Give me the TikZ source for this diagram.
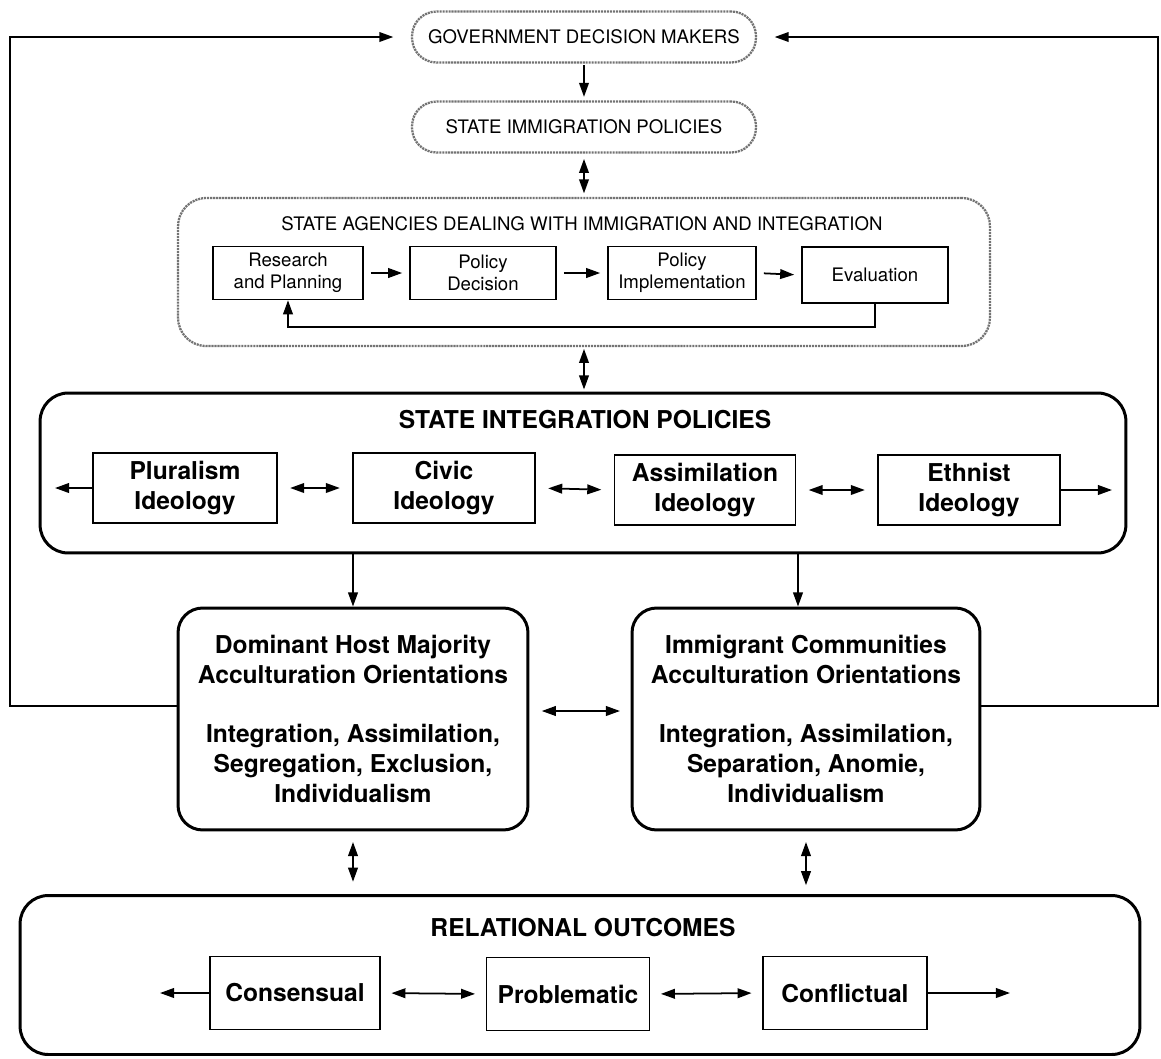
\documentclass[tikz,border=0pt]{standalone}
\usepackage{fontspec}
\setmainfont{TeX Gyre Heros}
\usetikzlibrary{arrows.meta,calc}
\begin{document}
\begin{tikzpicture}[x=0.02cm,y=-0.02cm,
  tip/.tip={Triangle[length=8pt,width=5.5pt]},
  arr/.style={-tip, line width=1pt},
  darr/.style={tip-tip, line width=1pt},
  dotbox/.style={draw=black!55, line width=1.3pt, dash pattern=on 1.2pt off 0.5pt,
    rounded corners=14pt, inner sep=0pt, font=\fontsize{10.6}{12.5}\selectfont},
  smallbox/.style={draw, line width=0.9pt, align=center, inner sep=0pt,
    minimum height=1.06cm, font=\fontsize{10.6}{12.5}\selectfont},
  bigbox/.style={draw, line width=1.7pt, rounded corners=16pt, inner sep=0pt},
  ideobox/.style={draw, line width=1pt, align=center, inner sep=0pt,
    minimum height=1.4cm, font=\fontsize{14}{17}\selectfont\bfseries},
  orientbox/.style={draw, line width=1.7pt, rounded corners=14pt, align=center, inner sep=0pt,
    minimum height=4.44cm, font=\fontsize{14}{17}\selectfont\bfseries},
  titletext/.style={font=\fontsize{14}{16}\selectfont\bfseries, inner sep=0pt},
  plaintext/.style={font=\fontsize{10.6}{12.5}\selectfont, inner sep=0pt}
]
\path[use as bounding box] (0,0) rectangle (1161,1059);

% top
\node[dotbox, minimum width=6.88cm, minimum height=1.02cm] (gov) at (584,37) {GOVERNMENT DECISION MAKERS};
\node[dotbox, minimum width=6.88cm, minimum height=1.02cm] (sip) at (584,127) {STATE IMMIGRATION POLICIES};

% agencies
\node[dotbox, rounded corners=16pt, minimum width=16.24cm, minimum height=2.96cm] (agy) at (584,272) {};
\node[plaintext] (agyt) at (582,224) {STATE AGENCIES DEALING WITH IMMIGRATION AND INTEGRATION};
\node[smallbox, minimum width=3cm] (res) at (288,273) {Research\\and Planning};
\node[smallbox, minimum width=2.92cm] (dec) at (483,273) {Policy\\Decision};
\node[smallbox, minimum width=2.96cm] (imp) at (682,273) {Policy\\Implementation};
\node[smallbox, minimum width=2.92cm, minimum height=1.12cm] (eva) at (875,275) {Evaluation};
\draw[arr, shorten <=4pt, shorten >=4pt] (res.east) -- (dec.west);
\draw[arr, shorten <=4pt, shorten >=4pt] (dec.east) -- (imp.west);
\draw[arr, shorten <=4pt, shorten >=4pt] (imp.east) -- (eva.west);
\coordinate (fb) at (0,327);
\draw[arr] (eva.south) -- (eva.south |- fb) -- (res.south |- fb) -- (res.south);

\draw[arr, shorten <=1pt, shorten >=2pt] (gov.south) -- (sip.north);
\draw[darr, shorten <=3pt, shorten >=2pt] (sip.south) -- (agy.north);
\draw[darr, shorten <=1pt, shorten >=2pt] (agy.south) -- (agy.south |- 0,393);

% integration policies
\node[bigbox, minimum width=21.72cm, minimum height=3.2cm] (sinp) at (583,473) {};
\node[titletext] (sinpt) at (585,420) {STATE INTEGRATION POLICIES};
\node[ideobox, minimum width=3.68cm] (plu) at (185,488) {Pluralism\\Ideology};
\node[ideobox, minimum width=3.64cm] (civ) at (444,488) {Civic\\Ideology};
\node[ideobox, minimum width=3.62cm] (ass) at (705,490) {Assimilation\\Ideology};
\node[ideobox, minimum width=3.64cm] (eth) at (969,490) {Ethnist\\Ideology};
\coordinate (il) at (55,0);
\coordinate (ir) at (1112,0);
\draw[arr] (plu.west) -- (plu.west -| il);
\draw[darr, shorten <=7pt, shorten >=7pt] (plu.east) -- (civ.west);
\draw[darr, shorten <=7pt, shorten >=7pt] (civ.east) -- (ass.west);
\draw[darr, shorten <=7pt, shorten >=7pt] (ass.east) -- (eth.west);
\draw[arr] (eth.east) -- (eth.east -| ir);

% orientations
\node[orientbox, minimum width=7cm] (dom) at (353,719) {Dominant Host Majority\\Acculturation Orientations\\[17pt]Integration, Assimilation,\\Segregation, Exclusion,\\Individualism};
\node[orientbox, minimum width=6.96cm] (imm) at (806,719) {Immigrant Communities\\Acculturation Orientations\\[17pt]Integration, Assimilation,\\Separation, Anomie,\\Individualism};
\draw[arr] (sinp.south -| dom.north) -- (dom.north);
\draw[arr] (sinp.south -| 798,0) -- (imm.north -| 798,0);
\coordinate (my) at (0,711);
\draw[darr, shorten <=7pt, shorten >=6pt] (dom.east |- my) -- (imm.west |- my);

% feedback loops
\coordinate (fy) at (0,706);
\coordinate (lx) at (10,0);
\coordinate (rx) at (1158,0);
\draw[arr, shorten >=10pt] (dom.west |- fy) -- (lx |- fy) -- (lx |- gov.west) -- (gov.west);
\draw[arr, shorten >=10pt] (imm.east |- fy) -- (rx |- fy) -- (rx |- gov.east) -- (gov.east);

% relational outcomes
\node[bigbox, minimum width=22.4cm, minimum height=3.18cm] (rel) at (580,975) {};
\node[titletext] (relt) at (583,928) {RELATIONAL OUTCOMES};
\node[ideobox, minimum width=3.4cm, minimum height=1.46cm] (con) at (295,993) {Consensual};
\node[ideobox, minimum width=3.26cm, minimum height=1.46cm] (pro) at (568,994) {Problematic};
\node[ideobox, minimum width=3.28cm, minimum height=1.46cm] (cfl) at (845,993) {Conflictual};
\coordinate (rl) at (160,0);
\coordinate (rr) at (1010,0);
\draw[arr] (con.west) -- (con.west -| rl);
\draw[darr, shorten <=6pt, shorten >=6pt] (con.east) -- (pro.west);
\draw[darr, shorten <=6pt, shorten >=6pt] (pro.east) -- (cfl.west);
\draw[arr] (cfl.east) -- (cfl.east -| rr);

\draw[darr, shorten <=6pt, shorten >=7pt] (dom.south) -- (rel.north -| dom.south);
\draw[darr, shorten <=6pt, shorten >=5pt] (imm.south) -- (rel.north -| imm.south);
\end{tikzpicture}
\end{document}
